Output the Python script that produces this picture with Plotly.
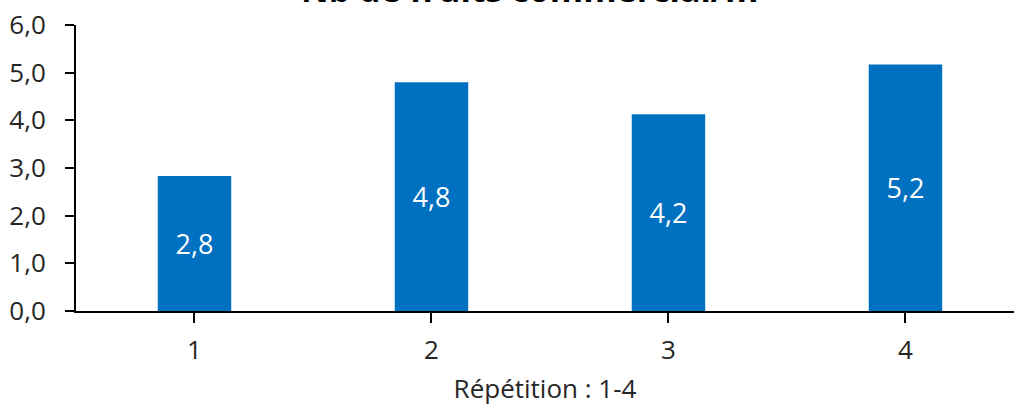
import plotly.graph_objects as go

categories = ["1", "2", "3", "4"]
values = [2.83, 4.80, 4.13, 5.17]
labels = ["2,8", "4,8", "4,2", "5,2"]
y_ticks = [0, 1, 2, 3, 4, 5, 6]
y_tick_text = ["0,0", "1,0", "2,0", "3,0", "4,0", "5,0", "6,0"]
title_text = "Nb de fruits commercial/m²"

FONT = "Open Sans"
FS = 26

fig = go.Figure()
fig.add_trace(go.Bar(
    x=[0, 1, 2, 3], y=values, width=0.31,
    marker=dict(color="#0070C0", line=dict(width=0)),
    text=labels, textposition="inside", insidetextanchor="middle",
    textfont=dict(color="white", size=FS + 1, family=FONT),
    textangle=0,
))

fig.update_layout(
    width=1014, height=412,
    margin=dict(l=76, r=0, t=25, b=101, autoexpand=False),
    paper_bgcolor="white", plot_bgcolor="white",
    showlegend=False,
    font=dict(family=FONT, color="#262626"),
    uniformtext=dict(mode=False),
)
fig.add_annotation(
    text="<b>" + title_text + "</b>", xref="paper", yref="paper",
    x=0.49, y=1.127, xanchor="center", yanchor="middle", showarrow=False,
    font=dict(size=34, color="#000000", family=FONT),
)
fig.update_xaxes(
    range=[-0.5, 3.458], automargin=False,
    tickmode="array", tickvals=[0, 1, 2, 3], ticktext=categories,
    tickson="boundaries", ticks="outside", ticklen=10, tickwidth=2, tickcolor="black",
    showline=True, linecolor="black", linewidth=2,
    showgrid=False, zeroline=False,
    tickfont=dict(size=FS, color="#262626", family=FONT),
    ticklabelstandoff=5,
    title=dict(text="Répétition : 1-4", font=dict(size=FS, color="#262626", family=FONT), standoff=14),
)
fig.update_yaxes(
    range=[0, 6], automargin=False,
    tickmode="array", tickvals=y_ticks, ticktext=y_tick_text,
    ticks="outside", ticklen=9, tickwidth=2, tickcolor="black",
    showline=True, linecolor="black", linewidth=2,
    showgrid=False, zeroline=False,
    tickfont=dict(size=FS, color="#262626", family=FONT),
    ticklabelstandoff=14,
)

fig.write_html("out.html", config={"displayModeBar": False},
               post_script="document.body.style.margin='0';")
